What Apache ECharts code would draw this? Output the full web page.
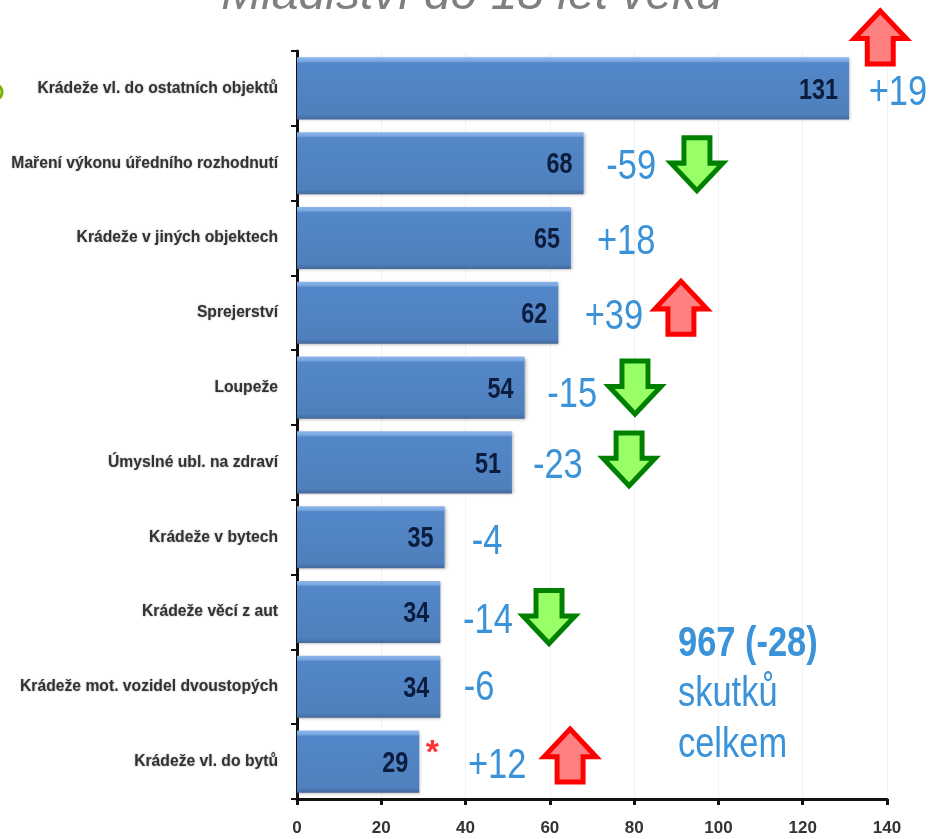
<!DOCTYPE html>
<html>
<head>
<meta charset="utf-8">
<style>
  html, body { margin: 0; padding: 0; background: #fff; }
  #chart { width: 930px; height: 839px; }
</style>
<script src="https://cdn.jsdelivr.net/npm/echarts@6/dist/echarts.min.js"></script>
</head>
<body>
<div id="chart"></div>
<script>
const categories = [
  'Krádeže vl. do ostatních objektů',
  'Maření výkonu úředního rozhodnutí',
  'Krádeže v jiných objektech',
  'Sprejerství',
  'Loupeže',
  'Úmyslné ubl. na zdraví',
  'Krádeže v bytech',
  'Krádeže věcí z aut',
  'Krádeže mot. vozidel dvoustopých',
  'Krádeže vl. do bytů'
]
const values = [131, 68, 65, 62, 54, 51, 35, 34, 34, 29]
const deltas = ['+19', '-59', '+18', '+39', '-15', '-23', '-4', '-14', '-6', '+12']
const ticks = [0, 20, 40, 60, 80, 100, 120, 140]

// kam se popisky a sipky kresli: x v jednotkach osy, dy v pixelech od stredu radku
const deltaX = [142.6, 79.3, 78.1, 75.2, 65.3, 61.9, 45.1, 45.3, 43.2, 47.5]
const deltaDy = [5, 4, 4, 5, 8, 4, 5, 9, 2, 5]
const arrowRows = [0, 1, 3, 4, 5, 7, 9]
const arrowX = [138.4, 94.9, 91.1, 80.2, 78.8, 59.8, 64.8]
const arrowDy = [-51, 1, -5, 0, -3, 5, -6]

const upPath = 'path://M26 0 L52 26 L39 26 L39 50 L13 50 L13 26 L0 26 Z'
const downPath = 'path://M13 0 L39 0 L39 24 L52 24 L26 50 L0 24 L13 24 Z'
const blue = '#3a92d8'
const sans = '"Liberation Sans", sans-serif'
const narrowScale = 0.82 // uzky Arial neni k dispozici, text se jen zuzi

const myChart = echarts.init(document.getElementById('chart'), null, { renderer: 'canvas' })

const option = {
  animation: false,
  title: {
    text: 'Mladiství do 18 let věku',
    left: 467,
    top: -33,
    textAlign: 'center',
    textStyle: {
      color: '#7f7f7f',
      fontSize: 48,
      fontStyle: 'italic',
      fontWeight: 'normal',
      fontFamily: sans
    }
  },
  grid: { left: 297, right: 43, top: 51, bottom: 40 },
  xAxis: {
    type: 'value',
    min: 0,
    max: 140,
    interval: 20,
    axisLine: { show: true, lineStyle: { color: '#111', width: 3 } },
    axisTick: { show: true, length: 6, lineStyle: { color: '#111', width: 3 } },
    splitLine: { show: true, lineStyle: { color: '#f2f2f2', width: 1 } },
    axisLabel: {
      margin: 21,
      color: '#333',
      fontSize: 17,
      fontWeight: 'bold',
      fontFamily: sans,
      formatter: (v) => (ticks.includes(v) ? String(v) : '')
    }
  },
  yAxis: {
    type: 'category',
    inverse: true,
    data: categories,
    axisLine: { show: true, lineStyle: { color: '#111', width: 3 } },
    axisTick: { show: true, length: 6, lineStyle: { color: '#111', width: 2 } },
    axisLabel: {
      margin: 19,
      color: '#333',
      fontSize: 15.7,
      fontWeight: 'bold',
      fontFamily: sans,
      padding: [2, 0, 0, 0],
      textShadowColor: 'rgba(0,0,0,.35)',
      textShadowBlur: 2
    }
  },
  series: [
    {
      type: 'bar',
      data: values,
      barCategoryGap: '17%',
      itemStyle: {
        color: {
          type: 'linear',
          x: 0, y: 0, x2: 0, y2: 1,
          colorStops: [
            { offset: 0, color: '#8db6ea' },
            { offset: 0.06, color: '#7aa7e0' },
            { offset: 0.09, color: '#5387c9' },
            { offset: 0.92, color: '#4f80bd' },
            { offset: 1, color: '#45699c' }
          ]
        },
        shadowColor: 'rgba(0,0,0,.3)',
        shadowBlur: 3,
        shadowOffsetX: 1,
        shadowOffsetY: 1
      }
    },
    {
      // hodnoty v pruzich
      type: 'custom',
      silent: true,
      z: 6,
      data: values.map((v, i) => [v, i]),
      renderItem: (params, api) => {
        const p = api.coord([api.value(0), api.value(1)])
        return {
          type: 'text',
          x: p[0] - 11,
          y: p[1] + 2,
          scaleX: 0.78,
          style: {
            text: String(values[params.dataIndex]),
            fill: '#0b1c3d',
            font: 'bold 30px ' + sans,
            align: 'right',
            verticalAlign: 'middle'
          }
        }
      }
    },
    {
      // zmeny proti minulemu roku
      type: 'custom',
      silent: true,
      z: 6,
      data: deltas.map((d, i) => [deltaX[i], i]),
      renderItem: (params, api) => {
        const p = api.coord([api.value(0), api.value(1)])
        return {
          type: 'text',
          x: p[0],
          y: p[1] + deltaDy[params.dataIndex],
          scaleX: narrowScale,
          style: {
            text: deltas[params.dataIndex],
            fill: blue,
            font: '42px ' + sans,
            align: 'center',
            verticalAlign: 'middle'
          }
        }
      }
    },
    {
      type: 'scatter',
      clip: false,
      silent: true,
      z: 6,
      data: arrowRows.map((row, i) => {
        const up = deltas[row][0] === '+'
        return {
          value: [arrowX[i], row],
          symbol: up ? upPath : downPath,
          symbolSize: [52, 53],
          symbolOffset: [0, arrowDy[i]],
          itemStyle: {
            opacity: 1,
            color: up ? '#ff8080' : '#99ff66',
            borderColor: up ? '#ff0000' : '#008000',
            borderWidth: 5,
            borderJoin: 'miter',
            borderMiterLimit: 10
          }
        }
      })
    },
    {
      // hvezdicka u poslednich kradezi
      type: 'scatter',
      clip: false,
      silent: true,
      z: 6,
      symbolSize: 1,
      itemStyle: { color: 'transparent' },
      data: [{
        value: [32.1, 9],
        label: {
          show: true,
          position: 'inside',
          formatter: '*',
          offset: [0, -8],
          color: '#ff0000',
          fontSize: 34,
          fontWeight: 'bold',
          fontFamily: sans
        }
      }]
    }
  ],
  graphic: [
    {
      type: 'text',
      x: 678,
      y: 623,
      z: 100,
      scaleX: narrowScale,
      style: { text: '967 (-28)', fill: blue, font: 'bold 42px ' + sans }
    },
    {
      type: 'text',
      x: 678,
      y: 673,
      z: 100,
      scaleX: narrowScale,
      style: { text: 'skutků', fill: blue, font: '42px ' + sans }
    },
    {
      type: 'text',
      x: 678,
      y: 724,
      z: 100,
      scaleX: narrowScale,
      style: { text: 'celkem', fill: blue, font: '42px ' + sans }
    },
    {
      // zbytek oriznuteho znaku u leveho okraje
      type: 'arc',
      shape: { cx: -6, cy: 92, r: 8, startAngle: -1, endAngle: 1 },
      style: { stroke: '#77b300', lineWidth: 3, fill: 'none' }
    }
  ]
}
myChart.setOption(option)
</script>
</body>
</html>
